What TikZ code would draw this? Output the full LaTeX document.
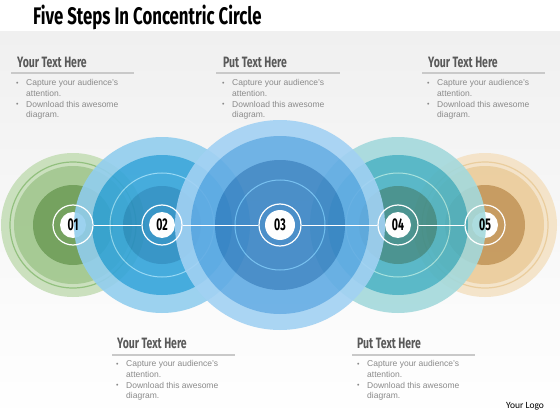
\documentclass[tikz,border=0pt]{standalone}
\usepackage{fontspec}
\setmainfont{Liberation Sans}
\newfontfamily\condfont[FakeStretch=0.7]{Fira Sans}
\newfontfamily\numfont[FakeStretch=0.62]{Fira Sans}
\newfontfamily\logofont{Carlito}
\definecolor{bggray}{HTML}{F0F0F0}
\definecolor{headgray}{HTML}{595959}
\definecolor{bodygray}{HTML}{8A8A8A}
\definecolor{rulegray}{HTML}{C9C9C9}
\definecolor{greenA}{HTML}{C6DEB8}
\definecolor{greenB}{HTML}{9EC58A}
\definecolor{greenC}{HTML}{67994F}
\definecolor{greenR}{HTML}{88BB72}
\definecolor{blueA}{HTML}{92CEEE}
\definecolor{blueB}{HTML}{33A4DA}
\definecolor{blueC}{HTML}{258CC2}
\definecolor{blueR}{HTML}{8ED6F5}
\definecolor{tealA}{HTML}{A4D9DC}
\definecolor{tealB}{HTML}{4AB2C3}
\definecolor{tealC}{HTML}{3A8A86}
\definecolor{tealR}{HTML}{9FE0DC}
\definecolor{orA}{HTML}{F4E2C5}
\definecolor{orB}{HTML}{EBCB98}
\definecolor{orC}{HTML}{C29352}
\definecolor{orR}{HTML}{E9C994}
\definecolor{bigA}{HTML}{A2D1F3}
\definecolor{bigB}{HTML}{62ACE4}
\definecolor{bigC}{HTML}{3984C4}
\definecolor{bigR}{HTML}{6BBCF0}
\newcommand{\blurb}{\makebox[10pt][l]{\raisebox{0.6pt}{\scriptsize\textbullet}}Capture your audience's\\
\hspace*{10pt}attention.\\
\makebox[10pt][l]{\raisebox{0.6pt}{\scriptsize\textbullet}}Download this awesome\\
\hspace*{10pt}diagram.}
\begin{document}
\begin{tikzpicture}[x=1pt,y=-1pt,
  numring/.style={circle,draw=white,line width=1.2pt,minimum size=40pt,inner sep=0pt,
    font=\numfont\bfseries\fontsize{17}{17}\selectfont},
  link/.style={draw=white,line width=1pt},
  head/.style={anchor=west,inner sep=0pt,text=headgray,
    font=\condfont\bfseries\fontsize{15}{15}\selectfont},
  body/.style={anchor=north west,inner sep=0pt,align=left,text=bodygray,
    font=\fontsize{8.5}{10.6}\selectfont},
  rule/.style={draw=rulegray,line width=1.2pt},
  group/.style={transparency group,opacity=0.9}]
\fill[white] (0,0) rectangle (560,420);
\shade[top color=bggray,bottom color=white] (0,32) rectangle (560,420);
\node[anchor=west,inner sep=0pt,font=\condfont\bfseries\fontsize{24}{24}\selectfont] (title) at (33,17) {Five Steps In Concentric Circle};
\begin{scope}[group]
\foreach \r/\c in {72/greenA,59/greenB,40/greenC} \fill[\c] (73,225) circle[radius=\r pt];
\draw[greenR,line width=1.2pt] (73,225) circle[radius=63pt];
\fill[white] (73,225) circle[radius=13pt];
\end{scope}
\begin{scope}[group]
\foreach \r/\c in {72/orA,59/orB,40/orC} \fill[\c] (485,225) circle[radius=\r pt];
\draw[orR,line width=1.2pt] (485,225) circle[radius=63pt];
\fill[white] (485,225) circle[radius=13pt];
\end{scope}
\begin{scope}[group]
\foreach \r/\c in {88/blueA,70/blueB,39/blueC} \fill[\c] (162,225) circle[radius=\r pt];
\draw[blueR,line width=1pt] (162,225) circle[radius=52pt];
\fill[white] (162,225) circle[radius=13pt];
\end{scope}
\begin{scope}[group]
\foreach \r/\c in {88/tealA,70/tealB,39/tealC} \fill[\c] (398,225) circle[radius=\r pt];
\draw[tealR,line width=1pt] (398,225) circle[radius=52pt];
\fill[white] (398,225) circle[radius=13pt];
\end{scope}
\begin{scope}[group]
\foreach \r/\c in {105/bigA,89/bigB,65/bigC} \fill[\c] (280,225) circle[radius=\r pt];
\draw[bigR,line width=1pt] (280,225) circle[radius=45pt];
\fill[white] (280,225) circle[radius=15pt];
\end{scope}
\node[numring] (s1) at (73,225) {01};
\node[numring] (s2) at (162,225) {02};
\node[numring,minimum size=42pt] (s3) at (280,225) {03};
\node[numring] (s4) at (398,225) {04};
\node[numring] (s5) at (485,225) {05};
\foreach \a/\b in {s1/s2,s2/s3,s3/s4,s4/s5}
\draw[link] (\a) -- (\b);
\node[head] (h1) at (17,62) {Your Text Here};
\node[head] (h2) at (223,62) {Put Text Here};
\node[head] (h3) at (428,62) {Your Text Here};
\node[head] (h4) at (117,343) {Your Text Here};
\node[head] (h5) at (357,343) {Put Text Here};
\draw[rule] (11,73) -- (134,73);
\draw[rule] (216,73) -- (340,73);
\draw[rule] (422,73) -- (545,73);
\draw[rule] (112,355) -- (235,355);
\draw[rule] (352,355) -- (475,355);
\node[body] (b1) at (16,79.5) {\blurb};
\node[body] (b2) at (222,79.5) {\blurb};
\node[body] (b3) at (427,79.5) {\blurb};
\node[body] (b4) at (116,360.5) {\blurb};
\node[body] (b5) at (357,360.5) {\blurb};
\node[anchor=west,inner sep=0pt,font=\logofont\fontsize{9.5}{9.5}\selectfont] (logo) at (506,406) {Your Logo};
\end{tikzpicture}
\end{document}
